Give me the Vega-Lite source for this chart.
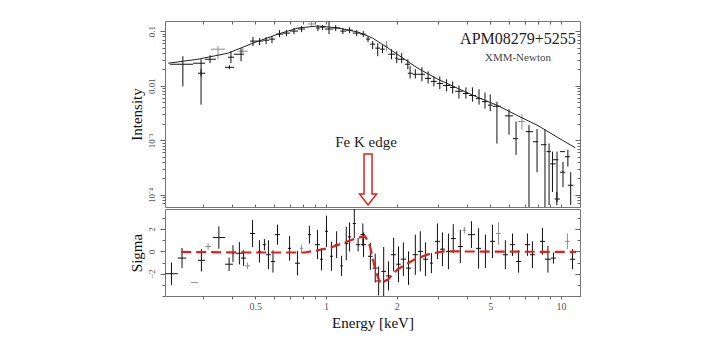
{
  "$schema": "https://vega.github.io/schema/vega-lite/v6.json",
  "background": "white",
  "padding": {"left": 128, "top": 20, "right": 5, "bottom": 5},
  "bounds": "flush",
  "spacing": 2,
  "config": {
    "view": {"stroke": "#777", "strokeWidth": 1},
    "axis": {
      "labelFont": "Liberation Serif",
      "titleFont": "Liberation Serif",
      "labelColor": "#555",
      "tickColor": "#666",
      "domain": false,
      "grid": false,
      "titleFontWeight": "normal",
      "titleColor": "#111"
    },
    "text": {"font": "Liberation Serif"}
  },
  "datasets": {
    "spec": [
      {"grp": "a", "Elo": 0.217, "Ehi": 0.272, "E": 0.246, "I": 0.0247, "Ilo": 0.0097, "Ihi": 0.0347},
      {"grp": "a", "Elo": 0.272, "Ehi": 0.306, "E": 0.294, "I": 0.0258, "Ilo": 0.0045, "Ihi": 0.0305},
      {"grp": "a", "Elo": 0.285, "Ehi": 0.306, "E": 0.294, "I": 0.0169, "Ilo": 0.0148, "Ihi": 0.02},
      {"grp": "a", "Elo": 0.306, "Ehi": 0.34, "E": 0.321, "I": 0.0305, "Ilo": 0.0258, "Ihi": 0.0361},
      {"grp": "b", "Elo": 0.324, "Ehi": 0.372, "E": 0.347, "I": 0.0466, "Ilo": 0.0305, "Ihi": 0.053},
      {"grp": "a", "Elo": 0.372, "Ehi": 0.406, "E": 0.388, "I": 0.0217, "Ilo": 0.02, "Ihi": 0.0237},
      {"grp": "a", "Elo": 0.383, "Ehi": 0.406, "E": 0.394, "I": 0.0332, "Ilo": 0.0258, "Ihi": 0.0428},
      {"grp": "a", "Elo": 0.406, "Ehi": 0.448, "E": 0.435, "I": 0.0377, "Ilo": 0.028, "Ihi": 0.0487},
      {"grp": "b", "Elo": 0.422, "Ehi": 0.466, "E": 0.443, "I": 0.0428, "Ilo": 0.0361, "Ihi": 0.0487},
      {"grp": "a", "Elo": 0.475, "Ehi": 0.504, "E": 0.489, "I": 0.0655, "Ilo": 0.053, "Ihi": 0.0776},
      {"grp": "a", "Elo": 0.504, "Ehi": 0.54, "E": 0.522, "I": 0.0655, "Ilo": 0.0552, "Ihi": 0.0744},
      {"grp": "a", "Elo": 0.54, "Ehi": 0.572, "E": 0.556, "I": 0.068, "Ilo": 0.0577, "Ihi": 0.0776},
      {"grp": "a", "Elo": 0.572, "Ehi": 0.607, "E": 0.589, "I": 0.0713, "Ilo": 0.0602, "Ihi": 0.0809},
      {"grp": "a", "Elo": 0.613, "Ehi": 0.656, "E": 0.634, "I": 0.0881, "Ilo": 0.0776, "Ihi": 0.104},
      {"grp": "a", "Elo": 0.656, "Ehi": 0.703, "E": 0.679, "I": 0.0919, "Ilo": 0.0809, "Ihi": 0.104},
      {"grp": "a", "Elo": 0.703, "Ehi": 0.76, "E": 0.731, "I": 0.1, "Ilo": 0.0881, "Ihi": 0.114},
      {"grp": "a", "Elo": 0.76, "Ehi": 0.814, "E": 0.787, "I": 0.109, "Ilo": 0.0959, "Ihi": 0.124},
      {"grp": "b", "Elo": 0.838, "Ehi": 0.898, "E": 0.868, "I": 0.135, "Ilo": 0.124, "Ihi": 0.147},
      {"grp": "a", "Elo": 0.906, "Ehi": 0.943, "E": 0.924, "I": 0.114, "Ilo": 0.1, "Ihi": 0.129},
      {"grp": "a", "Elo": 0.943, "Ehi": 0.99, "E": 0.966, "I": 0.118, "Ilo": 0.104, "Ihi": 0.129},
      {"grp": "a", "Elo": 0.99, "Ehi": 1.07, "E": 1.03, "I": 0.109, "Ilo": 0.0881, "Ihi": 0.15},
      {"grp": "a", "Elo": 1.07, "Ehi": 1.15, "E": 1.1, "I": 0.114, "Ilo": 0.1, "Ihi": 0.129},
      {"grp": "a", "Elo": 1.15, "Ehi": 1.22, "E": 1.18, "I": 0.1, "Ilo": 0.0881, "Ihi": 0.114},
      {"grp": "a", "Elo": 1.22, "Ehi": 1.3, "E": 1.26, "I": 0.104, "Ilo": 0.0919, "Ihi": 0.118},
      {"grp": "a", "Elo": 1.3, "Ehi": 1.4, "E": 1.35, "I": 0.0919, "Ilo": 0.0809, "Ihi": 0.104},
      {"grp": "a", "Elo": 1.4, "Ehi": 1.48, "E": 1.44, "I": 0.0881, "Ilo": 0.0776, "Ihi": 0.1},
      {"grp": "a", "Elo": 1.48, "Ehi": 1.54, "E": 1.51, "I": 0.0713, "Ilo": 0.0627, "Ihi": 0.0809},
      {"grp": "a", "Elo": 1.54, "Ehi": 1.62, "E": 1.58, "I": 0.0577, "Ilo": 0.0466, "Ihi": 0.0655},
      {"grp": "a", "Elo": 1.62, "Ehi": 1.7, "E": 1.66, "I": 0.0487, "Ilo": 0.0347, "Ihi": 0.0602},
      {"grp": "a", "Elo": 1.7, "Ehi": 1.78, "E": 1.74, "I": 0.0466, "Ilo": 0.0394, "Ihi": 0.0552},
      {"grp": "b", "Elo": 1.78, "Ehi": 1.84, "E": 1.81, "I": 0.053, "Ilo": 0.0428, "Ihi": 0.0655},
      {"grp": "a", "Elo": 1.84, "Ehi": 1.97, "E": 1.9, "I": 0.0377, "Ilo": 0.0305, "Ihi": 0.0466},
      {"grp": "a", "Elo": 1.97, "Ehi": 2.02, "E": 2.0, "I": 0.0318, "Ilo": 0.0258, "Ihi": 0.0428},
      {"grp": "a", "Elo": 2.02, "Ehi": 2.17, "E": 2.1, "I": 0.0305, "Ilo": 0.0258, "Ihi": 0.0394},
      {"grp": "a", "Elo": 2.17, "Ehi": 2.28, "E": 2.23, "I": 0.0247, "Ilo": 0.02, "Ihi": 0.0305},
      {"grp": "a", "Elo": 2.23, "Ehi": 2.34, "E": 2.28, "I": 0.0169, "Ilo": 0.0136, "Ihi": 0.0227},
      {"grp": "a", "Elo": 2.34, "Ehi": 2.46, "E": 2.4, "I": 0.0162, "Ilo": 0.0136, "Ihi": 0.02},
      {"grp": "a", "Elo": 2.46, "Ehi": 2.64, "E": 2.56, "I": 0.0162, "Ilo": 0.012, "Ihi": 0.0218},
      {"grp": "a", "Elo": 2.64, "Ehi": 2.8, "E": 2.72, "I": 0.0136, "Ilo": 0.011, "Ihi": 0.0183},
      {"grp": "a", "Elo": 2.8, "Ehi": 2.96, "E": 2.88, "I": 0.012, "Ilo": 0.0097, "Ihi": 0.0148},
      {"grp": "a", "Elo": 2.96, "Ehi": 3.15, "E": 3.05, "I": 0.011, "Ilo": 0.0086, "Ihi": 0.0148},
      {"grp": "a", "Elo": 3.15, "Ehi": 3.37, "E": 3.26, "I": 0.0101, "Ilo": 0.0079, "Ihi": 0.0131},
      {"grp": "a", "Elo": 3.37, "Ehi": 3.55, "E": 3.46, "I": 0.0093, "Ilo": 0.0072, "Ihi": 0.012},
      {"grp": "a", "Elo": 3.55, "Ehi": 3.82, "E": 3.68, "I": 0.0079, "Ilo": 0.0058, "Ihi": 0.0101},
      {"grp": "a", "Elo": 3.82, "Ehi": 4.06, "E": 3.94, "I": 0.0072, "Ilo": 0.0058, "Ihi": 0.0093},
      {"grp": "a", "Elo": 4.06, "Ehi": 4.35, "E": 4.2, "I": 0.0066, "Ilo": 0.0051, "Ihi": 0.0093},
      {"grp": "a", "Elo": 4.35, "Ehi": 4.61, "E": 4.48, "I": 0.0058, "Ilo": 0.0045, "Ihi": 0.0086},
      {"grp": "a", "Elo": 4.61, "Ehi": 4.89, "E": 4.75, "I": 0.0051, "Ilo": 0.0038, "Ihi": 0.0075},
      {"grp": "a", "Elo": 4.89, "Ehi": 5.12, "E": 5.0, "I": 0.0044, "Ilo": 0.0034, "Ihi": 0.0069},
      {"grp": "a", "Elo": 5.12, "Ehi": 5.55, "E": 5.34, "I": 0.0042, "Ilo": 0.00087, "Ihi": 0.0051},
      {"grp": "a", "Elo": 5.78, "Ehi": 6.25, "E": 6.01, "I": 0.0028, "Ilo": 0.00127, "Ihi": 0.0037},
      {"grp": "a", "Elo": 6.25, "Ehi": 6.56, "E": 6.44, "I": 0.00107, "Ilo": 0.00054, "Ihi": 0.0022},
      {"grp": "b", "Elo": 6.56, "Ehi": 7.03, "E": 6.82, "I": 0.0022, "Ilo": 0.00157, "Ihi": 0.003},
      {"grp": "a", "Elo": 7.1, "Ehi": 7.6, "E": 7.31, "I": 0.00144, "Ilo": 0.00006, "Ihi": 0.0019},
      {"grp": "a", "Elo": 7.6, "Ehi": 8.0, "E": 7.91, "I": 0.00094, "Ilo": 0.00026, "Ihi": 0.0016},
      {"grp": "a", "Elo": 8.22, "Ehi": 8.68, "E": 8.55, "I": 0.00083, "Ilo": 0.00006, "Ihi": 0.0016},
      {"grp": "a", "Elo": 8.68, "Ehi": 9.06, "E": 8.9, "I": 0.00062, "Ilo": 0.000065, "Ihi": 0.00087},
      {"grp": "a", "Elo": 9.0, "Ehi": 9.5, "E": 9.2, "I": 0.00037, "Ilo": 0.000113, "Ihi": 0.00062},
      {"grp": "a", "Elo": 9.2, "Ehi": 9.75, "E": 9.62, "I": 0.00044, "Ilo": 0.000074, "Ihi": 0.00062},
      {"grp": "a", "Elo": 9.9, "Ehi": 10.4, "E": 10.2, "I": 0.00062, "Ilo": 0.00062, "Ihi": 0.00062},
      {"grp": "a", "Elo": 9.9, "Ehi": 10.4, "E": 10.2, "I": 0.00026, "Ilo": 0.00014, "Ihi": 0.0004},
      {"grp": "a", "Elo": 10.4, "Ehi": 10.9, "E": 10.7, "I": 0.0005, "Ilo": 0.00033, "Ihi": 0.00067},
      {"grp": "a", "Elo": 10.7, "Ehi": 11.3, "E": 11.0, "I": 0.00015, "Ilo": 0.000065, "Ihi": 0.00026},
      {"grp": "a", "Elo": 9.4, "Ehi": 9.9, "E": 9.6, "I": 0.000084, "Ilo": 0.000065, "Ihi": 0.000113}
    ],
    "model": [
      {"E": 0.213, "I": 0.0258}, {"E": 0.285, "I": 0.0305}, {"E": 0.383, "I": 0.0394},
      {"E": 0.489, "I": 0.0602}, {"E": 0.625, "I": 0.0881}, {"E": 0.76, "I": 0.114},
      {"E": 0.924, "I": 0.124}, {"E": 1.125, "I": 0.114}, {"E": 1.368, "I": 0.0959},
      {"E": 1.58, "I": 0.0744}, {"E": 1.84, "I": 0.0487}, {"E": 2.13, "I": 0.0318},
      {"E": 2.46, "I": 0.0208}, {"E": 3.0, "I": 0.0131}, {"E": 3.64, "I": 0.0089},
      {"E": 4.43, "I": 0.0061}, {"E": 5.4, "I": 0.0043}, {"E": 6.56, "I": 0.0028},
      {"E": 7.98, "I": 0.00186}, {"E": 9.71, "I": 0.00112}, {"E": 11.5, "I": 0.00073}
    ],
    "resid": [
      {"grp": "a", "Elo": 0.207, "Ehi": 0.234, "E": 0.22, "s": -2.0, "lo": -3.0, "hi": -1.0},
      {"grp": "a", "Elo": 0.234, "Ehi": 0.254, "E": 0.244, "s": -0.6, "lo": -1.5, "hi": 0.3},
      {"grp": "b", "Elo": 0.267, "Ehi": 0.285, "E": 0.276, "s": -2.8, "lo": -2.8, "hi": -2.8},
      {"grp": "a", "Elo": 0.285, "Ehi": 0.306, "E": 0.295, "s": -0.8, "lo": -1.8, "hi": 0.2},
      {"grp": "b", "Elo": 0.306, "Ehi": 0.324, "E": 0.315, "s": 0.44, "lo": 0.14, "hi": 0.74},
      {"grp": "a", "Elo": 0.33, "Ehi": 0.372, "E": 0.35, "s": 1.24, "lo": 0.24, "hi": 2.24},
      {"grp": "a", "Elo": 0.372, "Ehi": 0.402, "E": 0.387, "s": -1.15, "lo": -1.75, "hi": -0.55},
      {"grp": "a", "Elo": 0.4, "Ehi": 0.405, "E": 0.402, "s": -0.2, "lo": -0.95, "hi": 0.55},
      {"grp": "a", "Elo": 0.414, "Ehi": 0.443, "E": 0.428, "s": -0.17, "lo": -1.17, "hi": 0.83},
      {"grp": "a", "Elo": 0.435, "Ehi": 0.457, "E": 0.446, "s": -0.6, "lo": -1.3, "hi": 0.1},
      {"grp": "b", "Elo": 0.452, "Ehi": 0.475, "E": 0.463, "s": -1.3, "lo": -1.6, "hi": -1.0},
      {"grp": "a", "Elo": 0.475, "Ehi": 0.499, "E": 0.487, "s": 1.6, "lo": 0.4, "hi": 2.8},
      {"grp": "a", "Elo": 0.514, "Ehi": 0.529, "E": 0.521, "s": 0.0, "lo": -1.0, "hi": 1.0},
      {"grp": "a", "Elo": 0.54, "Ehi": 0.555, "E": 0.547, "s": 0.6, "lo": 0.1, "hi": 1.1},
      {"grp": "a", "Elo": 0.555, "Ehi": 0.583, "E": 0.569, "s": -0.3, "lo": -1.6, "hi": 1.0},
      {"grp": "a", "Elo": 0.583, "Ehi": 0.607, "E": 0.595, "s": -0.9, "lo": -1.9, "hi": 0.1},
      {"grp": "a", "Elo": 0.607, "Ehi": 0.637, "E": 0.622, "s": 1.5, "lo": 0.6, "hi": 2.4},
      {"grp": "a", "Elo": 0.689, "Ehi": 0.71, "E": 0.7, "s": 0.27, "lo": -0.83, "hi": 1.37},
      {"grp": "a", "Elo": 0.738, "Ehi": 0.775, "E": 0.756, "s": -1.06, "lo": -2.16, "hi": 0.04},
      {"grp": "b", "Elo": 0.775, "Ehi": 0.798, "E": 0.786, "s": 0.27, "lo": -0.03, "hi": 0.57},
      {"grp": "a", "Elo": 0.838, "Ehi": 0.863, "E": 0.85, "s": 1.5, "lo": 0.7, "hi": 2.3},
      {"grp": "a", "Elo": 0.898, "Ehi": 0.943, "E": 0.92, "s": 0.6, "lo": -0.7, "hi": 1.9},
      {"grp": "a", "Elo": 0.943, "Ehi": 0.971, "E": 0.957, "s": -0.7, "lo": -1.7, "hi": 0.3},
      {"grp": "a", "Elo": 0.99, "Ehi": 1.02, "E": 1.005, "s": 1.8, "lo": 0.4, "hi": 3.2},
      {"grp": "a", "Elo": 1.04, "Ehi": 1.07, "E": 1.055, "s": -0.44, "lo": -1.74, "hi": 0.86},
      {"grp": "a", "Elo": 1.09, "Ehi": 1.125, "E": 1.11, "s": 0.6, "lo": -0.6, "hi": 1.8},
      {"grp": "a", "Elo": 1.15, "Ehi": 1.18, "E": 1.165, "s": -1.3, "lo": -2.2, "hi": -0.4},
      {"grp": "a", "Elo": 1.2, "Ehi": 1.24, "E": 1.22, "s": 0.7, "lo": -0.8, "hi": 2.2},
      {"grp": "a", "Elo": 1.24, "Ehi": 1.28, "E": 1.26, "s": 1.3, "lo": 0.0, "hi": 2.6},
      {"grp": "a", "Elo": 1.3, "Ehi": 1.34, "E": 1.32, "s": 2.5, "lo": 1.2, "hi": 3.8},
      {"grp": "a", "Elo": 1.34, "Ehi": 1.4, "E": 1.37, "s": 0.6, "lo": 0.0, "hi": 1.2},
      {"grp": "a", "Elo": 1.4, "Ehi": 1.47, "E": 1.435, "s": 1.5, "lo": 0.5, "hi": 2.5},
      {"grp": "a", "Elo": 1.41, "Ehi": 1.48, "E": 1.445, "s": 0.6, "lo": -0.5, "hi": 1.7},
      {"grp": "a", "Elo": 1.51, "Ehi": 1.58, "E": 1.545, "s": -0.44, "lo": -1.64, "hi": 0.76},
      {"grp": "a", "Elo": 1.58, "Ehi": 1.66, "E": 1.62, "s": -1.5, "lo": -2.8, "hi": -0.2},
      {"grp": "a", "Elo": 1.63, "Ehi": 1.72, "E": 1.675, "s": -2.65, "lo": -3.95, "hi": -1.35},
      {"grp": "a", "Elo": 1.72, "Ehi": 1.8, "E": 1.76, "s": -1.8, "lo": -4.0, "hi": 0.4},
      {"grp": "a", "Elo": 1.8, "Ehi": 1.89, "E": 1.845, "s": -2.2, "lo": -3.5, "hi": -0.9},
      {"grp": "a", "Elo": 1.89, "Ehi": 1.99, "E": 1.94, "s": -0.3, "lo": -1.8, "hi": 1.2},
      {"grp": "a", "Elo": 1.99, "Ehi": 2.08, "E": 2.035, "s": -1.15, "lo": -2.75, "hi": 0.45},
      {"grp": "a", "Elo": 2.08, "Ehi": 2.19, "E": 2.135, "s": -0.7, "lo": -2.2, "hi": 0.8},
      {"grp": "a", "Elo": 2.19, "Ehi": 2.3, "E": 2.245, "s": -1.5, "lo": -3.0, "hi": 0.0},
      {"grp": "a", "Elo": 2.34, "Ehi": 2.46, "E": 2.4, "s": -0.3, "lo": -2.1, "hi": 1.5},
      {"grp": "a", "Elo": 2.46, "Ehi": 2.59, "E": 2.52, "s": 0.0, "lo": -1.8, "hi": 1.8},
      {"grp": "a", "Elo": 2.59, "Ehi": 2.72, "E": 2.65, "s": -0.7, "lo": -2.2, "hi": 0.8},
      {"grp": "a", "Elo": 2.77, "Ehi": 2.85, "E": 2.81, "s": -1.06, "lo": -1.96, "hi": -0.16},
      {"grp": "a", "Elo": 2.91, "Ehi": 3.06, "E": 2.98, "s": 0.9, "lo": -0.7, "hi": 2.5},
      {"grp": "a", "Elo": 3.06, "Ehi": 3.21, "E": 3.13, "s": 0.2, "lo": -1.3, "hi": 1.7},
      {"grp": "a", "Elo": 3.24, "Ehi": 3.4, "E": 3.32, "s": 0.0, "lo": -1.6, "hi": 1.6},
      {"grp": "a", "Elo": 3.4, "Ehi": 3.57, "E": 3.48, "s": 1.15, "lo": -0.15, "hi": 2.45},
      {"grp": "a", "Elo": 3.64, "Ehi": 3.83, "E": 3.73, "s": 0.44, "lo": -1.06, "hi": 1.94},
      {"grp": "b", "Elo": 3.83, "Ehi": 3.94, "E": 3.88, "s": 1.9, "lo": 1.6, "hi": 2.2},
      {"grp": "a", "Elo": 4.02, "Ehi": 4.31, "E": 4.16, "s": 1.5, "lo": 0.3, "hi": 2.7},
      {"grp": "a", "Elo": 4.35, "Ehi": 4.57, "E": 4.46, "s": 0.27, "lo": -1.53, "hi": 2.07},
      {"grp": "a", "Elo": 4.66, "Ehi": 4.89, "E": 4.77, "s": 0.0, "lo": -1.5, "hi": 1.5},
      {"grp": "a", "Elo": 4.99, "Ehi": 5.24, "E": 5.11, "s": 0.9, "lo": -0.6, "hi": 2.4},
      {"grp": "b", "Elo": 5.29, "Ehi": 5.55, "E": 5.42, "s": 1.6, "lo": 0.6, "hi": 2.6},
      {"grp": "a", "Elo": 5.66, "Ehi": 5.95, "E": 5.8, "s": -0.3, "lo": -1.6, "hi": 1.0},
      {"grp": "a", "Elo": 6.07, "Ehi": 6.37, "E": 6.22, "s": 0.6, "lo": -0.4, "hi": 1.6},
      {"grp": "a", "Elo": 6.44, "Ehi": 6.76, "E": 6.6, "s": -0.9, "lo": -1.9, "hi": 0.1},
      {"grp": "a", "Elo": 7.03, "Ehi": 7.38, "E": 7.2, "s": 0.6, "lo": -0.4, "hi": 1.6},
      {"grp": "a", "Elo": 7.38, "Ehi": 7.75, "E": 7.56, "s": -0.3, "lo": -1.5, "hi": 0.9},
      {"grp": "a", "Elo": 8.14, "Ehi": 8.55, "E": 8.34, "s": 0.9, "lo": -0.3, "hi": 2.1},
      {"grp": "a", "Elo": 8.55, "Ehi": 9.06, "E": 8.8, "s": -0.7, "lo": -1.9, "hi": 0.5},
      {"grp": "a", "Elo": 9.06, "Ehi": 9.52, "E": 9.29, "s": -0.6, "lo": -1.1, "hi": -0.1},
      {"grp": "b", "Elo": 10.4, "Ehi": 10.9, "E": 10.65, "s": 0.9, "lo": 0.2, "hi": 1.6},
      {"grp": "a", "Elo": 10.9, "Ehi": 11.5, "E": 11.2, "s": -0.7, "lo": -1.6, "hi": 0.2}
    ],
    "rmodel": [
      {"E": 0.242, "s": -0.05}, {"E": 0.466, "s": -0.1}, {"E": 0.814, "s": -0.1},
      {"E": 0.924, "s": 0.1}, {"E": 1.05, "s": 0.35}, {"E": 1.2, "s": 0.8},
      {"E": 1.37, "s": 1.24}, {"E": 1.47, "s": 1.33}, {"E": 1.54, "s": 0.44},
      {"E": 1.62, "s": -1.6}, {"E": 1.7, "s": -2.9}, {"E": 1.84, "s": -2.5},
      {"E": 2.02, "s": -1.6}, {"E": 2.39, "s": -0.7}, {"E": 2.72, "s": -0.27},
      {"E": 3.15, "s": 0.0}, {"E": 11.6, "s": -0.05}
    ]
  },
  "vconcat": [
    {
      "width": 415,
      "height": 186,
      "layer": [
        {
          "data": {"name": "spec"},
          "mark": {"type": "rule", "strokeWidth": 1},
          "encoding": {
            "x": {"field": "Elo", "type": "quantitative",
              "scale": {"type": "log", "domain": [0.2065, 12.05], "nice": false},
              "axis": {"orient": "bottom", "labels": false, "title": null, "tickSize": -3,
                "values": [0.3, 0.4, 0.5, 0.6, 0.7, 0.8, 0.9, 1, 2, 3, 4, 5, 6, 7, 8, 9, 10]}},
            "x2": {"field": "Ehi"},
            "y": {"field": "I", "type": "quantitative",
              "scale": {"type": "log", "domain": [0.00006, 0.153], "nice": false},
              "axis": {"orient": "left", "title": "Intensity", "titleFontSize": 15, "titlePadding": 3,
                "labelAngle": -90, "labelAlign": "center", "labelBaseline": "bottom", "labelFontSize": 9, "labelPadding": 4,
                "values": [0.00007, 0.00008, 0.00009, 0.0001, 0.0002, 0.0003, 0.0004, 0.0005, 0.0006, 0.0007, 0.0008, 0.0009, 0.001, 0.002, 0.003, 0.004, 0.005, 0.006, 0.007, 0.008, 0.009, 0.01, 0.02, 0.03, 0.04, 0.05, 0.06, 0.07, 0.08, 0.09, 0.1],
                "labelExpr": "datum.value == 0.1 ? '0.1' : datum.value == 0.01 ? '0.01' : datum.value == 0.001 ? '10⁻³' : datum.value == 0.0001 ? '10⁻⁴' : ''",
                "tickSize": {"condition": {"test": "datum.value == 0.1 || datum.value == 0.01 || datum.value == 0.001 || datum.value == 0.0001", "value": 5}, "value": 3}}},
            "color": {"field": "grp", "type": "nominal", "scale": {"domain": ["a", "b"], "range": ["#111111", "#8c8c8c"]}, "legend": null}
          }
        },
        {
          "data": {"name": "spec"},
          "mark": {"type": "rule", "strokeWidth": 1},
          "encoding": {
            "x": {"field": "E", "type": "quantitative", "scale": {"type": "log", "domain": [0.2065, 12.05], "nice": false}, "axis": null},
            "y": {"field": "Ilo", "type": "quantitative", "scale": {"type": "log", "domain": [0.00006, 0.153], "nice": false}, "axis": null},
            "y2": {"field": "Ihi"},
            "color": {"field": "grp", "type": "nominal", "scale": {"domain": ["a", "b"], "range": ["#111111", "#8c8c8c"]}, "legend": null}
          }
        },
        {
          "data": {"name": "model"},
          "mark": {"type": "line", "color": "#222222", "strokeWidth": 1},
          "encoding": {
            "x": {"field": "E", "type": "quantitative", "scale": {"type": "log", "domain": [0.2065, 12.05], "nice": false},
              "axis": {"orient": "top", "labels": false, "title": null, "tickSize": -3,
                "values": [0.3, 0.4, 0.5, 0.6, 0.7, 0.8, 0.9, 1, 2, 3, 4, 5, 6, 7, 8, 9, 10]}},
            "y": {"field": "I", "type": "quantitative", "scale": {"type": "log", "domain": [0.00006, 0.153], "nice": false},
              "axis": {"orient": "right", "labels": false, "title": null,
                "values": [0.00007, 0.00008, 0.00009, 0.0001, 0.0002, 0.0003, 0.0004, 0.0005, 0.0006, 0.0007, 0.0008, 0.0009, 0.001, 0.002, 0.003, 0.004, 0.005, 0.006, 0.007, 0.008, 0.009, 0.01, 0.02, 0.03, 0.04, 0.05, 0.06, 0.07, 0.08, 0.09, 0.1],
                "tickSize": {"condition": {"test": "datum.value == 0.1 || datum.value == 0.01 || datum.value == 0.001 || datum.value == 0.0001", "value": -5}, "value": -3}}}
          }
        },
        {
          "data": {"values": [{"E": 6.56, "I": 0.0713, "label": "APM08279+5255"}]},
          "mark": {"type": "text", "fontSize": 16, "color": "#222222", "baseline": "middle", "align": "center"},
          "encoding": {
            "x": {"field": "E", "type": "quantitative", "scale": {"type": "log", "domain": [0.2065, 12.05], "nice": false}, "axis": null},
            "y": {"field": "I", "type": "quantitative", "scale": {"type": "log", "domain": [0.00006, 0.153], "nice": false}, "axis": null},
            "text": {"field": "label"}
          }
        },
        {
          "data": {"values": [{"E": 6.56, "I": 0.0318, "label": "XMM-Newton"}]},
          "mark": {"type": "text", "fontSize": 11, "color": "#444444", "baseline": "middle", "align": "center"},
          "encoding": {
            "x": {"field": "E", "type": "quantitative", "scale": {"type": "log", "domain": [0.2065, 12.05], "nice": false}, "axis": null},
            "y": {"field": "I", "type": "quantitative", "scale": {"type": "log", "domain": [0.00006, 0.153], "nice": false}, "axis": null},
            "text": {"field": "label"}
          }
        },
        {
          "data": {"values": [{"E": 1.48, "I": 0.00094, "label": "Fe K edge"}]},
          "mark": {"type": "text", "fontSize": 15, "color": "#222222", "baseline": "middle", "align": "center"},
          "encoding": {
            "x": {"field": "E", "type": "quantitative", "scale": {"type": "log", "domain": [0.2065, 12.05], "nice": false}, "axis": null},
            "y": {"field": "I", "type": "quantitative", "scale": {"type": "log", "domain": [0.00006, 0.153], "nice": false}, "axis": null},
            "text": {"field": "label"}
          }
        },
        {
          "data": {"values": [{"E": 1.51, "I": 0.000192}]},
          "mark": {"type": "point", "filled": true, "fill": "white", "stroke": "#d8261e", "strokeWidth": 1.5, "opacity": 1, "size": 2601,
            "shape": "M -0.157 -1 L 0.157 -1 L 0.157 0.57 L 0.333 0.57 L 0 1 L -0.333 0.57 L -0.157 0.57 Z"},
          "encoding": {
            "x": {"field": "E", "type": "quantitative", "scale": {"type": "log", "domain": [0.2065, 12.05], "nice": false}, "axis": null},
            "y": {"field": "I", "type": "quantitative", "scale": {"type": "log", "domain": [0.00006, 0.153], "nice": false}, "axis": null}
          }
        }
      ],
      "resolve": {"axis": {"x": "independent", "y": "independent"}}
    },
    {
      "width": 415,
      "height": 87,
      "layer": [
        {
          "data": {"name": "resid"},
          "mark": {"type": "rule", "strokeWidth": 1},
          "encoding": {
            "x": {"field": "Elo", "type": "quantitative",
              "scale": {"type": "log", "domain": [0.2065, 12.05], "nice": false},
              "axis": {"orient": "bottom", "title": "Energy [keV]", "titleFontSize": 15, "titlePadding": 4,
                "labelFontSize": 10, "labelPadding": 2, "tickSize": 3, "labelAngle": 0,
                "values": [0.3, 0.4, 0.5, 0.6, 0.7, 0.8, 0.9, 1, 2, 3, 4, 5, 6, 7, 8, 9, 10],
                "labelExpr": "datum.value == 0.5 ? '0.5' : datum.value == 1 ? '1' : datum.value == 2 ? '2' : datum.value == 5 ? '5' : datum.value == 10 ? '10' : ''"}},
            "x2": {"field": "Ehi"},
            "y": {"field": "s", "type": "quantitative",
              "scale": {"domain": [-4, 3.8], "nice": false, "zero": false},
              "axis": {"orient": "left", "title": "Sigma", "titleFontSize": 15, "titlePadding": 3,
                "labelAngle": -90, "labelAlign": "center", "labelBaseline": "bottom", "labelFontSize": 9, "labelPadding": 4,
                "values": [-4, -3, -2, -1, 0, 1, 2, 3],
                "labelExpr": "datum.value == 2 || datum.value == 0 || datum.value == -2 ? datum.label : ''",
                "tickSize": {"condition": {"test": "datum.value == 2 || datum.value == 0 || datum.value == -2", "value": 5}, "value": 3}}},
            "color": {"field": "grp", "type": "nominal", "scale": {"domain": ["a", "b"], "range": ["#111111", "#8c8c8c"]}, "legend": null}
          }
        },
        {
          "data": {"name": "resid"},
          "mark": {"type": "rule", "strokeWidth": 1},
          "encoding": {
            "x": {"field": "E", "type": "quantitative", "scale": {"type": "log", "domain": [0.2065, 12.05], "nice": false}, "axis": null},
            "y": {"field": "lo", "type": "quantitative", "scale": {"domain": [-4, 3.8], "nice": false, "zero": false}, "axis": null},
            "y2": {"field": "hi"},
            "color": {"field": "grp", "type": "nominal", "scale": {"domain": ["a", "b"], "range": ["#111111", "#8c8c8c"]}, "legend": null}
          }
        },
        {
          "data": {"name": "rmodel"},
          "mark": {"type": "line", "color": "#e0201b", "strokeWidth": 2.2, "strokeDash": [10, 5]},
          "encoding": {
            "x": {"field": "E", "type": "quantitative", "scale": {"type": "log", "domain": [0.2065, 12.05], "nice": false}, "axis": null},
            "y": {"field": "s", "type": "quantitative", "scale": {"domain": [-4, 3.8], "nice": false, "zero": false},
              "axis": {"orient": "right", "labels": false, "title": null, "values": [-4, -3, -2, -1, 0, 1, 2, 3],
                "tickSize": {"condition": {"test": "datum.value == 2 || datum.value == 0 || datum.value == -2", "value": -5}, "value": -3}}}
          }
        }
      ],
      "resolve": {"axis": {"x": "independent", "y": "independent"}}
    }
  ]
}
